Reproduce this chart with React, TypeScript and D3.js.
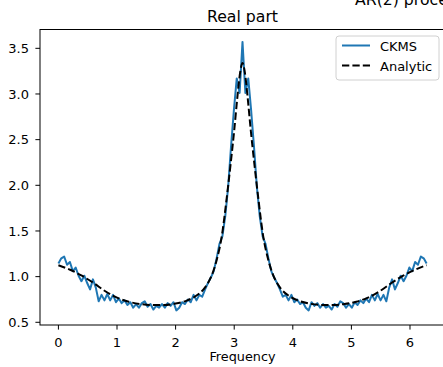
import React from "react";
import * as d3 from "d3";

const ckmsValues: number[] = [
  1.145, 1.2, 1.22, 1.13, 1.16, 1.06, 1.1, 1.01, 0.95, 1.01,
  0.93, 0.86, 0.97, 0.88, 0.73, 0.8, 0.74, 0.81, 0.74, 0.8,
  0.72, 0.76, 0.71, 0.74, 0.69, 0.72, 0.66, 0.7, 0.66, 0.71,
  0.73, 0.67, 0.7, 0.64, 0.68, 0.66, 0.7, 0.66, 0.71, 0.68,
  0.72, 0.63, 0.66, 0.72, 0.7, 0.75, 0.72, 0.8, 0.74, 0.8,
  0.78, 0.86, 0.93, 0.99, 1.06, 1.2, 1.36, 1.44, 1.66, 1.98,
  2.42, 2.82, 3.17, 3.01, 3.57,
  3.01, 3.17, 2.82, 2.42, 1.98, 1.66, 1.44, 1.36, 1.2, 1.06,
  0.99, 0.93, 0.86, 0.78, 0.8, 0.74, 0.8, 0.72, 0.75, 0.7,
  0.72, 0.66, 0.63, 0.72, 0.68, 0.71, 0.66, 0.7, 0.66, 0.68,
  0.64, 0.7, 0.67, 0.73, 0.71, 0.66, 0.7, 0.66, 0.72, 0.69,
  0.74, 0.71, 0.76, 0.72, 0.8, 0.74, 0.81, 0.74, 0.8, 0.73,
  0.88, 0.97, 0.86, 0.93, 1.01, 0.95, 1.01, 1.1, 1.06, 1.16,
  1.13, 1.22, 1.2, 1.145,
];
const ckmsFreq: number[] = ckmsValues.map((_, i) => (i * 2 * Math.PI) / (ckmsValues.length - 1));

const analyticFreq: number[] = [
  0, 0.2, 0.4, 0.6, 0.8, 1.0, 1.2, 1.4, 1.6, 1.8, 2.0, 2.2, 2.35, 2.5, 2.62, 2.7, 2.79, 2.87, 2.94, 3.0, 3.055, 3.1,
  3.1416,
  3.183, 3.228, 3.283, 3.343, 3.413, 3.493, 3.583, 3.663, 3.783, 3.933, 4.083, 4.283, 4.483, 4.683, 4.883, 5.083,
  5.283, 5.483, 5.683, 5.883, 6.083, 6.283,
];
const analyticValues: number[] = [
  1.125, 1.075, 1.01, 0.93, 0.84, 0.77, 0.725, 0.7, 0.69, 0.69, 0.705, 0.74, 0.79, 0.88, 1.02, 1.18, 1.45, 1.85, 2.24,
  2.6, 2.97, 3.23,
  3.34,
  3.23, 2.97, 2.6, 2.24, 1.85, 1.45, 1.18, 1.02, 0.88, 0.79, 0.74, 0.705, 0.69, 0.69, 0.7, 0.725, 0.77, 0.84, 0.93,
  1.01, 1.075, 1.125,
];

const xTicks: number[] = [0, 1, 2, 3, 4, 5, 6];
const yTicks: number[] = [0.5, 1.0, 1.5, 2.0, 2.5, 3.0, 3.5];

const W = 443;
const H = 367;
const left = 40;
const right = 445;
const top = 29.5;
const bottom = 325;
const FONT = "'DejaVu Sans', sans-serif";

export default function App() {
  const x = d3.scaleLinear().domain([-0.3142, 6.5973]).range([left, right]);
  const y = d3.scaleLinear().domain([0.4704, 3.706]).range([bottom, top]);

  const ckmsLine = d3
    .line<number>()
    .x((_, i) => x(ckmsFreq[i]))
    .y((d) => y(d))(ckmsValues) as string;

  const analyticLine = d3
    .line<number>()
    .x((_, i) => x(analyticFreq[i]))
    .y((d) => y(d))
    .curve(d3.curveMonotoneX)(analyticValues) as string;

  return (
    <svg
      width={W}
      height={H}
      style={{ position: "absolute", left: 0, top: 0, background: "#fff" }}
      fontFamily={FONT}
    >
      <defs>
        <clipPath id="ax">
          <rect x={left} y={top} width={right - left} height={bottom - top} />
        </clipPath>
      </defs>
      <rect x={0} y={0} width={W} height={H} fill="#fff" />
      <text x={355} y={5} fontSize={15.7} fill="#000">
        AR(2) process
      </text>
      <text x={(left + right) / 2} y={22} fontSize={15.7} textAnchor="middle" fill="#000">
        Real part
      </text>

      <g clipPath="url(#ax)">
        <path d={ckmsLine} fill="none" stroke="#1f77b4" strokeWidth={2} strokeLinejoin="round" />
        <path
          d={analyticLine}
          fill="none"
          stroke="#000"
          strokeWidth={2}
          strokeDasharray="7.3,3.1"
        />
      </g>

      <rect x={left} y={top} width={right - left} height={bottom - top} fill="none" stroke="#000" strokeWidth={1} />

      {xTicks.map((t) => (
        <g key={"x" + t}>
          <line x1={x(t)} x2={x(t)} y1={bottom} y2={bottom + 4.6} stroke="#000" strokeWidth={1} />
          <text x={x(t)} y={bottom + 21.5} fontSize={13} textAnchor="middle" fill="#000">
            {t}
          </text>
        </g>
      ))}
      {yTicks.map((t) => (
        <g key={"y" + t}>
          <line x1={left - 4.6} x2={left} y1={y(t)} y2={y(t)} stroke="#000" strokeWidth={1} />
          <text x={left - 11} y={y(t) + 4.7} fontSize={13} textAnchor="end" fill="#000">
            {t.toFixed(1)}
          </text>
        </g>
      ))}
      <text x={(left + right) / 2} y={361} fontSize={12.8} textAnchor="middle" fill="#000">
        Frequency
      </text>

      <g>
        <rect x={336} y={36} width={103} height={44} rx={3} fill="#fff" fillOpacity={0.8} stroke="#d0d0d0" strokeWidth={1} />
        <line x1={342} x2={370} y1={45.5} y2={45.5} stroke="#1f77b4" strokeWidth={2} />
        <text x={380} y={50.5} fontSize={13} fill="#000">
          CKMS
        </text>
        <line x1={342} x2={370} y1={65.5} y2={65.5} stroke="#000" strokeWidth={2} strokeDasharray="7.3,3.1" />
        <text x={380} y={70.5} fontSize={13} fill="#000">
          Analytic
        </text>
      </g>
    </svg>
  );
}
